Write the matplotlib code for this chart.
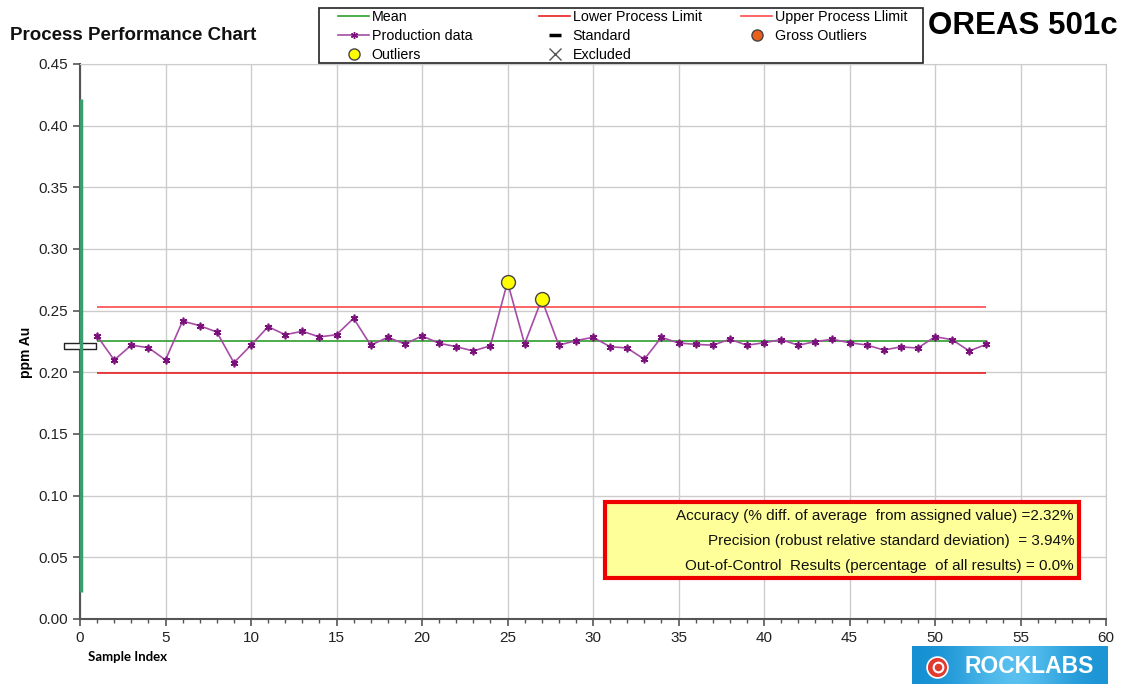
import numpy as np
import matplotlib
matplotlib.use('Agg')
import matplotlib.pyplot as plt
from matplotlib.lines import Line2D
from matplotlib.patches import Rectangle

plt.rcParams['font.family'] = ['Liberation Sans', 'DejaVu Sans']

# data
sample_index = list(range(1, 54))
ppm_au = [0.2295, 0.210, 0.222, 0.220, 0.210, 0.2416, 0.2378, 0.2327, 0.2078, 0.222,
          0.237, 0.2305, 0.2333, 0.2287, 0.2305, 0.2438, 0.222, 0.2284, 0.223, 0.2295,
          0.2236, 0.2208, 0.2173, 0.2216, 0.2732, 0.223, 0.2592, 0.222, 0.2257, 0.2284,
          0.2208, 0.2197, 0.2106, 0.2284, 0.2238, 0.2227, 0.222, 0.2268, 0.222, 0.224,
          0.2265, 0.222, 0.2249, 0.2268, 0.224, 0.2222, 0.2181, 0.2206, 0.2197, 0.2289,
          0.2265, 0.2173, 0.2227]
outlier_index = [25, 27]
outlier_ppm = [0.2732, 0.2592]
mean_value = 0.2257
lower_limit = 0.1995
upper_limit = 0.2527
standard_value = 0.2215
standard_range = [0.022, 0.422]
limit_span = [1, 53]

stats_lines = ["Accuracy (% diff. of average  from assigned value) =2.32%",
               "Precision (robust relative standard deviation)  = 3.94%",
               "Out-of-Control  Results (percentage  of all results) = 0.0%"]

W, H = 1123, 684
fig = plt.figure(figsize=(W / 100, H / 100), dpi=100)
ax = fig.add_axes([80 / W, 1 - 619 / H, (1106 - 80) / W, (619 - 64) / H])

ax.hlines(mean_value, limit_span[0], limit_span[1], color='#2e9e2e', lw=1.2, zorder=3)
ax.hlines(lower_limit, limit_span[0], limit_span[1], color='#e82020', lw=1.2, zorder=3)
ax.hlines(upper_limit, limit_span[0], limit_span[1], color='#ff4a4a', lw=1.2, zorder=3)
ax.plot(sample_index, ppm_au, color='#a64ca6', lw=1.2, marker=(6, 2, 0), ms=5.5,
        mec='#7a107a', mew=1.2, zorder=4)
ax.plot(outlier_index, outlier_ppm, ls='none', marker='o', ms=10, mfc='#ffff00',
        mec='#444444', mew=1.0, zorder=5)
box = [(-5, -1), (5, -1), (5, 1), (-5, 1), (-5, -1)]
ax.plot([0], [standard_value], ls='none', marker=box, ms=23, mfc='white',
        mec='#222222', mew=1.0, zorder=5, clip_on=False)
ax.vlines(0.05, standard_range[0], standard_range[1], color='#3a9d6e', lw=2.5,
          zorder=6, clip_on=False)

ax.set_xlim(0, 60)
ax.set_ylim(0, 0.45)
ax.set_xticks(np.arange(0, 61, 5))
ax.set_xticks(np.arange(0, 61, 1), minor=True)
ax.set_yticks(np.arange(0, 0.451, 0.05))
ax.yaxis.set_major_formatter(matplotlib.ticker.FormatStrFormatter('%.2f'))
ax.grid(True, which='major', color='#cccccc', lw=1)
ax.set_axisbelow(True)
ax.tick_params(axis='both', which='major', length=5, width=1.2, color='#555555',
               labelsize=11, labelcolor='#222222')
ax.tick_params(axis='x', which='minor', length=3, width=1, color='#555555')
for s in ['left', 'bottom']:
    ax.spines[s].set_color('#555555')
    ax.spines[s].set_linewidth(1.5)
for s in ['top', 'right']:
    ax.spines[s].set_color('#cccccc')

fig.text(26 / W, 1 - 352 / H, 'ppm Au', fontsize=10, fontweight='bold',
         rotation=90, ha='center', va='center')
fig.text(127 / W, 1 - 657 / H, 'Sample Index', fontsize=9.5, fontweight='bold',
         ha='center', va='center', family=['Lato', 'DejaVu Sans'])
fig.text(10 / W, 1 - 35 / H, 'Process Performance Chart', fontsize=13.5,
         fontweight='bold', ha='left', va='center', color='#111111')
fig.text(1118 / W, 1 - 26 / H, 'OREAS 501c', fontsize=22.5, fontweight='bold',
         ha='right', va='center')

# legend: three columns, frame drawn separately
h_mean = Line2D([], [], color='#2e9e2e', lw=1.2)
h_low = Line2D([], [], color='#e82020', lw=1.2)
h_up = Line2D([], [], color='#ff4a4a', lw=1.2)
h_prod = Line2D([], [], color='#a64ca6', lw=1.2, marker=(6, 2, 0), ms=5, mec='#7a107a')
h_std = Line2D([], [], ls='none', marker='_', ms=9, mew=2.5, color='black')
h_gross = Line2D([], [], ls='none', marker='o', ms=8, mfc='#e8601c', mec='#444444')
h_out = Line2D([], [], ls='none', marker='o', ms=8, mfc='#ffff00', mec='#444444')
h_exc = Line2D([], [], ls='none', marker='x', ms=8, color='#555555', mew=1)
columns = [([h_mean, h_prod, h_out], ['Mean', 'Production data', 'Outliers'], 338),
           ([h_low, h_std, h_exc], ['Lower Process Limit', 'Standard', 'Excluded'], 539),
           ([h_up, h_gross], ['Upper Process Llimit', 'Gross Outliers'], 741)]
for hs, ls, x0 in columns:
    lg = fig.legend(hs, ls, loc='upper left', bbox_to_anchor=(x0 / W, 1 - 10 / H),
                    fontsize=10.3, frameon=False, handlelength=2.2,
                    handletextpad=0.15, labelspacing=0.36, borderpad=0,
                    borderaxespad=0)
fig.patches.append(Rectangle((319 / W, 1 - 63 / H), (923 - 319) / W, 55 / H,
                             transform=fig.transFigure, facecolor='none',
                             edgecolor='#222222', lw=1.2))

# stats box
fig.patches.append(Rectangle((605 / W, 1 - 578 / H), (1079 - 605) / W, (578 - 502) / H,
                             transform=fig.transFigure, facecolor='#ffff99',
                             edgecolor='#ee0000', lw=3, zorder=6))
for i, line in enumerate(stats_lines):
    fig.text(1074 / W, 1 - (516 + 25 * i) / H, line, fontsize=11, ha='right',
             va='center', zorder=7, color='#111111')

# logo
lax = fig.add_axes([912 / W, 0, (1108 - 912) / W, 38 / H])
shade = np.array([[0.0, 0.2, 0.55, 0.9, 1.0, 0.7, 0.3, 0.1]])
lax.imshow(shade, cmap=matplotlib.colors.LinearSegmentedColormap.from_list(
    'b', ['#1590d2', '#5cc2f0']), aspect='auto', extent=(0, 1, 0, 1),
    interpolation='bicubic')
lax.plot([0.13], [0.45], marker='o', ms=15, mfc='#e23a2e', mec='white', mew=1.2)
lax.plot([0.135], [0.45], marker='o', ms=7, mfc='none', mec='white', mew=1.5)
lax.text(0.6, 0.45, 'ROCKLABS', color='white', fontsize=16.5, fontweight='bold',
         ha='center', va='center')
lax.set_xlim(0, 1)
lax.set_ylim(0, 1)
lax.axis('off')

fig.savefig('out.png', dpi=100)
